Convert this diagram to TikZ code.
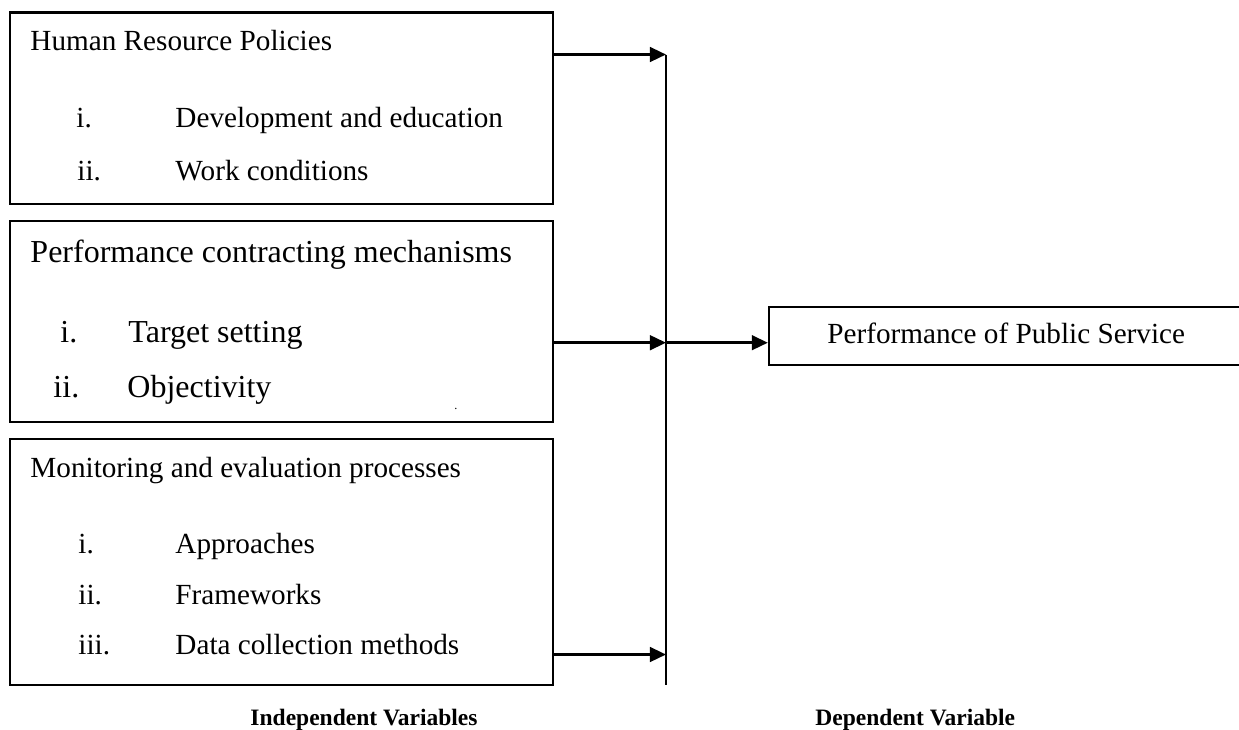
\documentclass[tikz,border=0pt]{standalone}
\usepackage{fontspec}
\setmainfont{Liberation Serif}
\usetikzlibrary{arrows.meta}
\begin{document}
\begin{tikzpicture}[x=0.411pt,y=-0.411pt,
  box/.style={draw=black,line width=0.95pt,rectangle,inner sep=0pt},
  txt/.style={anchor=base west,inner sep=0pt,font=\fontsize{12}{14}\selectfont},
  bigtxt/.style={anchor=base west,inner sep=0pt,font=\fontsize{13.15}{16}\selectfont},
  lbl/.style={anchor=base west,inner sep=0pt,font=\fontsize{9.66}{12}\selectfont\bfseries},
  arr/.style={line width=1.1pt,-{Triangle[length=6.6pt,width=6pt]}},
  bar/.style={line width=1pt}]
\useasboundingbox (0,0) rectangle (1239,729);
% boxes
\node[box,minimum width=542.7*0.411pt,minimum height=191.5*0.411pt] (b1) at (281.35,108.25) {};
\node[box,minimum width=542.7*0.411pt,minimum height=201*0.411pt] (b2) at (281.35,321.2) {};
\node[box,minimum width=542.7*0.411pt,minimum height=245.7*0.411pt] (b3) at (281.35,562.15) {};
\node[box,minimum width=560*0.411pt,minimum height=58.3*0.411pt] (dv) at (1049,335.85) {};
% texts box 1
\node[txt] (t1) at (30,50) {Human Resource Policies};
\node[txt] (t1a) at (76,127) {i.};
\node[txt] (t1b) at (175,127) {Development and education};
\node[txt] (t1c) at (77,180) {ii.};
\node[txt] (t1d) at (175,180) {Work conditions};
% texts box 2
\node[bigtxt] (t2) at (30,262) {Performance contracting mechanisms};
\node[bigtxt] (t2a) at (60,342) {i.};
\node[bigtxt] (t2b) at (128,342) {Target setting};
\node[bigtxt] (t2c) at (53,397) {ii.};
\node[bigtxt] (t2d) at (127,397) {Objectivity};
\node[anchor=base west,inner sep=0pt,font=\fontsize{5}{6}\selectfont] (dot) at (454,409) {.};
% texts box 3
\node[txt] (t3) at (30,477) {Monitoring and evaluation processes};
\node[txt] (t3a) at (78,553) {i.};
\node[txt] (t3b) at (175,553) {Approaches};
\node[txt] (t3c) at (78,604) {ii.};
\node[txt] (t3d) at (175,604) {Frameworks};
\node[txt] (t3e) at (78,654) {iii.};
\node[txt] (t3f) at (175,654) {Data collection methods};
% right box text
\node[txt] (tdv) at (827,343) {Performance of Public Service};
% labels
\node[lbl] (li) at (250,725.5) {Independent Variables};
\node[lbl] (ld) at (815,725.5) {Dependent Variable};
% connectors
\coordinate (v1) at (666,54.5);
\coordinate (v2) at (666,342.7);
\coordinate (v3) at (666,654.5);
\coordinate (vb) at (666,685);
\draw[bar] (v1) -- (vb);
\draw[arr] (b1.east |- v1) -- (v1);
\draw[arr] (b2.east |- v2) -- (v2);
\draw[arr] (b3.east |- v3) -- (v3);
\draw[arr] (v2) -- (dv.west |- v2);
\end{tikzpicture}
\end{document}
